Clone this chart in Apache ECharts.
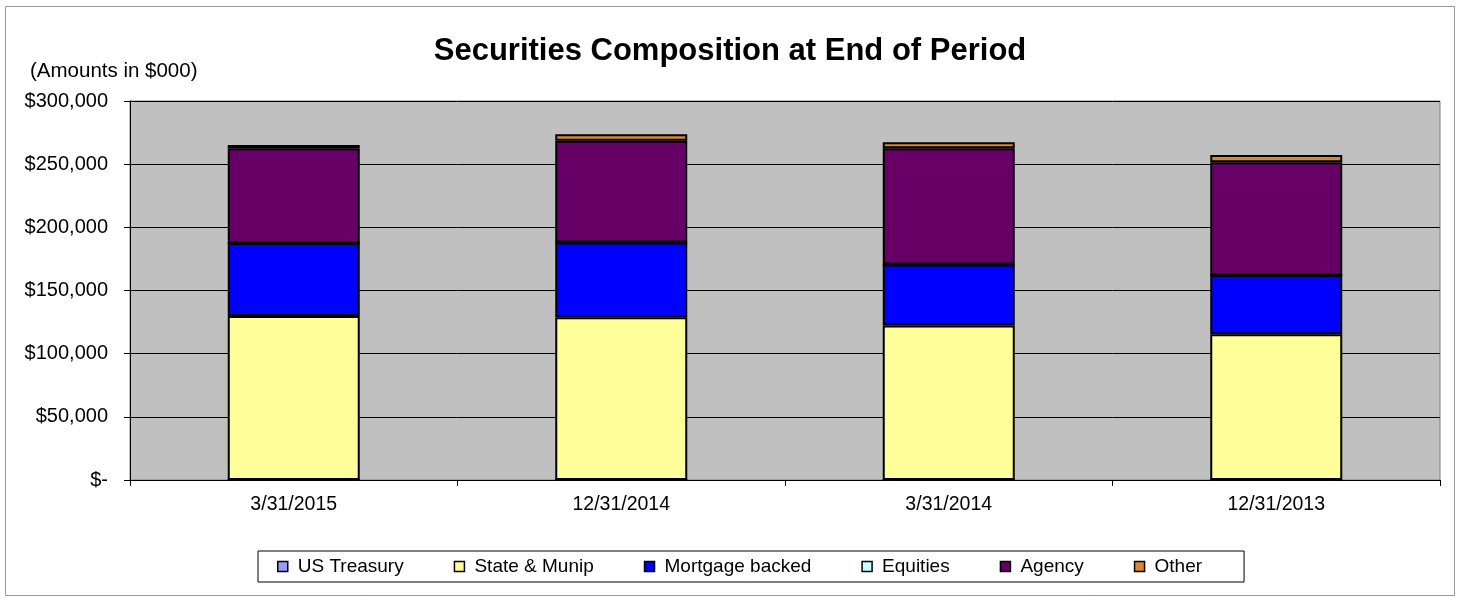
<!DOCTYPE html>
<html>
<head>
    <meta charset="utf-8">
    <title>Securities Composition</title>
    <script src="https://cdn.jsdelivr.net/npm/echarts@6/dist/echarts.min.js"></script>
    <style>
        body { margin: 0; background: #fff; }
        #chart { width: 1460px; height: 600px; }
    </style>
</head>
<body>
<div id="chart"></div>
<script>
    // periods shown on the x axis
    var periods = ['3/31/2015', '12/31/2014', '3/31/2014', '12/31/2013'];

    // amounts in $000
    var usTreasury = [0, 0, 0, 0];
    var stateMunip = [129800, 128800, 122200, 115300];
    var mortgage = [57800, 59100, 48300, 47000];
    var equities = [0, 0, 0, 0];
    var agency = [75000, 80700, 92100, 89200];
    var other = [2600, 5000, 4700, 5800];

    var yTicks = [0, 50000, 100000, 150000, 200000, 250000, 300000];

    var font = 'Liberation Sans, Arial, sans-serif';

    function money(v) {
        if (v === 0) return '$-';
        return '$' + v.toLocaleString('en-US');
    }

    function bar(name, data, color) {
        return {
            name: name,
            type: 'bar',
            stack: 'total',
            barWidth: 132,
            data: data,
            itemStyle: { color: color, borderColor: '#000', borderWidth: 2 }
        };
    }

    var chart = echarts.init(document.getElementById('chart'));

    chart.setOption({
        animation: false,
        backgroundColor: '#fff',
        textStyle: { fontFamily: font },
        title: {
            text: 'Securities Composition at End of Period',
            left: 'center',
            top: 31,
            textStyle: { fontSize: 31, fontWeight: 'bold', color: '#000', fontFamily: font }
        },
        graphic: [
            {
                type: 'rect',
                shape: { x: 5.5, y: 6.5, width: 1449, height: 589 },
                style: { fill: 'none', stroke: '#999', lineWidth: 1 },
                z: -1
            },
            {
                type: 'text',
                left: 30,
                top: 61,
                style: { text: '(Amounts in $000)', fontSize: 20.5, fill: '#000', fontFamily: font }
            }
        ],
        legend: {
            bottom: 18,
            left: 258,
            padding: [6, 42, 6, 19],
            itemGap: 50,
            itemWidth: 10,
            itemHeight: 10,
            icon: 'rect',
            backgroundColor: '#fff',
            borderColor: '#000',
            borderWidth: 1,
            textStyle: { fontSize: 19, color: '#000', fontFamily: font, padding: [0, 0, 0, 5] },
            itemStyle: { borderColor: '#000', borderWidth: 1.5 }
        },
        grid: {
            left: 130,
            right: 20,
            top: 101,
            bottom: 120,
            show: true,
            backgroundColor: '#C0C0C0',
            borderColor: '#808080',
            borderWidth: 1
        },
        xAxis: {
            type: 'category',
            data: periods,
            axisLine: { lineStyle: { color: '#000', width: 1 } },
            axisTick: { show: true, length: 6, lineStyle: { color: '#000' } },
            axisLabel: { fontSize: 19.5, color: '#000', margin: 15 }
        },
        yAxis: {
            type: 'value',
            min: yTicks[0],
            max: yTicks[yTicks.length - 1],
            interval: 50000,
            axisLine: { show: true, lineStyle: { color: '#000', width: 1 } },
            axisTick: { show: true, length: 6, lineStyle: { color: '#000' } },
            splitLine: { lineStyle: { color: '#000', width: 1 } },
            axisLabel: { fontSize: 20, color: '#000', margin: 22, formatter: money }
        },
        series: [
            bar('US Treasury', usTreasury, '#9999FF'),
            bar('State & Munip', stateMunip, '#FFFF99'),
            bar('Mortgage backed', mortgage, '#0000FF'),
            bar('Equities', equities, '#CCFFFF'),
            bar('Agency', agency, '#660066'),
            bar('Other', other, '#DD8438')
        ]
    });
</script>
</body>
</html>
